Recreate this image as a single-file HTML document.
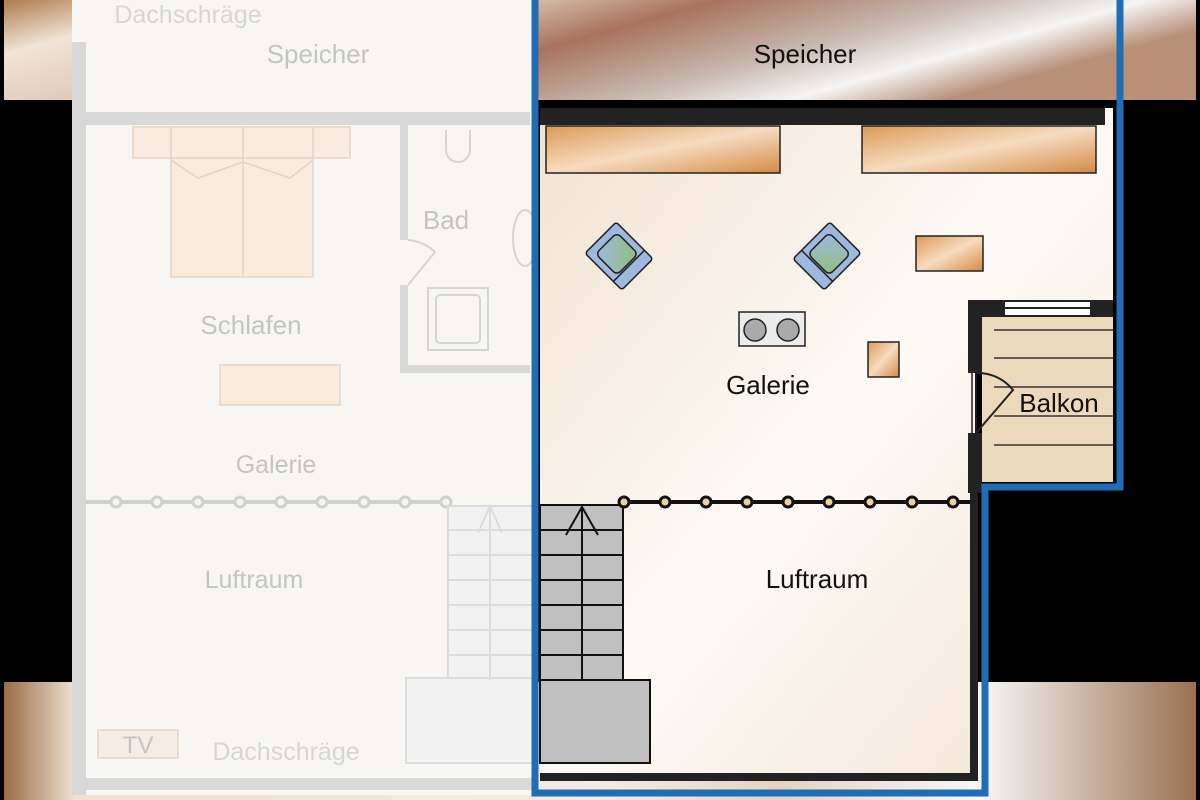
<!DOCTYPE html>
<html><head><meta charset="utf-8"><style>
html,body{margin:0;padding:0;background:#000;width:1200px;height:800px;overflow:hidden}
text{font-family:"Liberation Sans Narrow","Liberation Sans",sans-serif}
</style></head><body>
<svg width="1200" height="800" viewBox="0 0 1200 800" xmlns="http://www.w3.org/2000/svg">
<defs>
<linearGradient id="sp" x1="0" y1="0" x2="1" y2="0.3">
<stop offset="0" stop-color="#b07a4e"/><stop offset="0.15" stop-color="#f1e4d6"/><stop offset="0.4" stop-color="#d9c0ab"/><stop offset="0.55" stop-color="#a8735c"/><stop offset="0.75" stop-color="#c9b9b0"/><stop offset="0.88" stop-color="#f5f5f5"/><stop offset="1" stop-color="#b89078"/></linearGradient>
<linearGradient id="bt" x1="0" y1="0" x2="1" y2="0">
<stop offset="0" stop-color="#9a6b45"/><stop offset="0.06" stop-color="#efe2d4"/><stop offset="0.5" stop-color="#f4ebe2"/><stop offset="0.65" stop-color="#e6d3c0"/><stop offset="0.82" stop-color="#f7f7f7"/><stop offset="1" stop-color="#9b7050"/></linearGradient>
<linearGradient id="fl" x1="0" y1="0" x2="1" y2="1"><stop offset="0" stop-color="#f0e2cf"/><stop offset="0.5" stop-color="#fdfaf6"/><stop offset="1" stop-color="#f1e3d2"/></linearGradient>
<linearGradient id="wd" x1="0" y1="0" x2="1" y2="1"><stop offset="0" stop-color="#dc9a55"/><stop offset="0.5" stop-color="#f6dcc0"/><stop offset="1" stop-color="#d48a45"/></linearGradient>
<linearGradient id="ch" x1="0" y1="0" x2="1" y2="1"><stop offset="0" stop-color="#9fb8e0"/><stop offset="1" stop-color="#8fc07a"/></linearGradient>
</defs>
<rect width="1200" height="800" fill="#000"/>
<rect x="4" y="0" width="1192" height="100" fill="url(#sp)"/>
<rect x="4" y="682" width="1192" height="118" fill="url(#bt)"/>
<!-- faded left area -->
<rect x="72" y="0" width="463" height="795" fill="#f8f6f3"/>
<text x="188" y="23" font-size="25" fill="#d6d6d6" text-anchor="middle">Dachschräge</text>
<text x="318" y="63" font-size="26" fill="#c4c4c4" text-anchor="middle">Speicher</text>
<g fill="#d8d8d8">
<rect x="72" y="112" width="458" height="13"/>
<rect x="72" y="42" width="14" height="753"/>
<rect x="400" y="125" width="8" height="115"/>
<rect x="400" y="285" width="8" height="87"/>
<rect x="400" y="365" width="130" height="8"/>
<rect x="72" y="778" width="463" height="12"/>
</g>
<g fill="#f9ebdd" stroke="#e2d5c8" stroke-width="1.5">
<rect x="133" y="127" width="38" height="31"/><rect x="313" y="127" width="37" height="31"/>
<rect x="171" y="127" width="142" height="150"/><line x1="243" y1="127" x2="243" y2="277"/>
<line x1="171" y1="158" x2="313" y2="158"/>
<polyline points="171,160 198,178 243,162 290,178 313,160" fill="none"/>
<rect x="220" y="365" width="120" height="40"/>
<rect x="98" y="730" width="80" height="28" fill="#f5ece4"/>
</g>
<g fill="none" stroke="#d5d5d5" stroke-width="2">
<path d="M446,130 v20 a12,12 0 0 0 24,0 v-20"/>
<rect x="428" y="288" width="60" height="62"/><rect x="436" y="295" width="44" height="48" rx="4"/>
<path d="M408,285 L435,252 A45,45 0 0 0 408,240"/>
<ellipse cx="525" cy="238" rx="12" ry="28"/>
</g>
<text x="251" y="334" font-size="26" fill="#c4c4c4" text-anchor="middle">Schlafen</text>
<text x="446" y="229" font-size="26" fill="#c4c4c4" text-anchor="middle">Bad</text>
<text x="276" y="473" font-size="25" fill="#c4c4c4" text-anchor="middle">Galerie</text>
<text x="254" y="588" font-size="25" fill="#c4c4c4" text-anchor="middle">Luftraum</text>
<text x="138" y="753" font-size="24" fill="#c4c4c4" text-anchor="middle">TV</text>
<text x="286" y="760" font-size="25" fill="#d6d6d6" text-anchor="middle">Dachschräge</text>
<line x1="86" y1="502" x2="447" y2="502" stroke="#d0d0d0" stroke-width="4"/>
<g fill="#f4f4f4" stroke="#d0d0d0" stroke-width="3">
<circle cx="116" cy="502" r="5"/><circle cx="157" cy="502" r="5"/><circle cx="198" cy="502" r="5"/><circle cx="240" cy="502" r="5"/><circle cx="281" cy="502" r="5"/><circle cx="322" cy="502" r="5"/><circle cx="364" cy="502" r="5"/><circle cx="405" cy="502" r="5"/><circle cx="446" cy="502" r="5"/></g>
<g fill="#f2f2f2" stroke="#dcdcdc" stroke-width="2">
<rect x="448" y="506" width="87" height="174"/>
<rect x="406" y="678" width="129" height="85"/></g>
<g stroke="#dcdcdc" stroke-width="2" fill="none">
<path d="M448,530h87M448,555h87M448,580h87M448,605h87M448,630h87M448,655h87M490,506v174M478,533l12,-27l12,27"/></g>
<!-- active right area floor -->
<path d="M540,100 H1113 V300 H975 V780 H540 Z" fill="url(#fl)"/>
<rect x="540" y="100" width="573" height="8" fill="#000"/>
<rect x="540" y="108" width="565" height="17" fill="#222"/>
<rect x="546" y="126" width="234" height="47" fill="url(#wd)" stroke="#222" stroke-width="1.5"/>
<rect x="862" y="126" width="234" height="47" fill="url(#wd)" stroke="#222" stroke-width="1.5"/>
<rect x="916" y="236" width="67" height="35" fill="url(#wd)" stroke="#222" stroke-width="1.5"/>
<rect x="868" y="342" width="31" height="35" fill="url(#wd)" stroke="#222" stroke-width="1.5"/>
<g stroke="#222" stroke-width="1.5">
<g transform="translate(619,256) rotate(-45)"><rect x="-22" y="-26" width="44" height="52" rx="3" fill="#9fb8e0"/><rect x="-15" y="-18" width="30" height="30" rx="5" fill="url(#ch)"/><line x1="-22" y1="14" x2="22" y2="14"/></g>
<g transform="translate(827,256) rotate(45)"><rect x="-22" y="-26" width="44" height="52" rx="3" fill="#9fb8e0"/><rect x="-15" y="-18" width="30" height="30" rx="5" fill="url(#ch)"/><line x1="-22" y1="14" x2="22" y2="14"/></g>
<rect x="739" y="312" width="66" height="34" fill="#ececec"/>
<circle cx="755" cy="330" r="11" fill="#aaa"/><circle cx="788" cy="330" r="11" fill="#aaa"/>
</g>
<!-- balkon -->
<rect x="982" y="317" width="131" height="165" fill="#ecd9bc"/>
<rect x="968" y="300" width="145" height="17" fill="#222"/>
<rect x="1005" y="302" width="85" height="13" fill="#fff"/><line x1="1005" y1="308" x2="1090" y2="308" stroke="#222" stroke-width="2"/>
<rect x="968" y="300" width="14" height="73" fill="#222"/>
<rect x="968" y="433" width="14" height="60" fill="#222"/>
<g stroke="#333" stroke-width="1.5"><path d="M994,330h119M994,358h119M994,387h119M994,416h119M994,445h119"/></g>
<path d="M972,373v60M976,373v60" stroke="#222" stroke-width="1.5"/>
<path d="M976,433 L1013,390 A45,45 0 0 0 976,373" fill="none" stroke="#222" stroke-width="2"/>
<text x="1059" y="412" font-size="26" fill="#111" text-anchor="middle">Balkon</text>
<rect x="970" y="482" width="8" height="298" fill="#222"/>
<rect x="540" y="773" width="438" height="8" fill="#222"/>
<!-- stairs -->
<rect x="540" y="505" width="83" height="175" fill="#c0c0c0" stroke="#111" stroke-width="2"/>
<rect x="540" y="680" width="110" height="83" fill="#c0c0c0" stroke="#111" stroke-width="2"/>
<g stroke="#111" stroke-width="2" fill="none"><path d="M540,530h83M540,555h83M540,580h83M540,605h83M540,630h83M540,655h83M582,507v173M566,535l16,-28l16,28"/></g>
<line x1="623" y1="502" x2="970" y2="502" stroke="#111" stroke-width="4"/>
<g fill="#eccfa4" stroke="#111" stroke-width="3">
<circle cx="624" cy="502" r="5"/><circle cx="665" cy="502" r="5"/><circle cx="706" cy="502" r="5"/><circle cx="747" cy="502" r="5"/><circle cx="788" cy="502" r="5"/><circle cx="829" cy="502" r="5"/><circle cx="870" cy="502" r="5"/><circle cx="912" cy="502" r="5"/><circle cx="953" cy="502" r="5"/></g>
<text x="805" y="63" font-size="26" fill="#111" text-anchor="middle">Speicher</text>
<text x="768" y="394" font-size="26" fill="#111" text-anchor="middle">Galerie</text>
<text x="817" y="588" font-size="26" fill="#111" text-anchor="middle">Luftraum</text>
<path d="M535,0 V793 H985 V487 H1120 V0" fill="none" stroke="#1f6db5" stroke-width="7"/>
</svg>
</body></html>
